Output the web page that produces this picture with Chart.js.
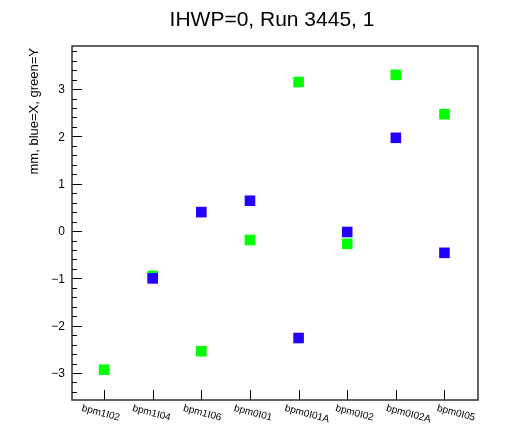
<!DOCTYPE html>
<html>
<head>
<meta charset="utf-8">
<script src="https://cdn.jsdelivr.net/npm/chart.js@4.4.0/dist/chart.umd.min.js"></script>
<style>
html,body{margin:0;padding:0;background:#fff;}
canvas{display:block;}
</style>
</head>
<body>
<canvas id="c" width="516" height="439"></canvas>
<script>
// ---- data ----
const categories = ['bpm1I02','bpm1I04','bpm1I06','bpm0I01','bpm0I01A','bpm0I02','bpm0I02A','bpm0I05'];
const blueX = [null, -1.00, 0.40, 0.64, -2.26, -0.02, 1.97, -0.46];
const greenY = [-2.93, -0.95, -2.54, -0.19, 3.15, -0.27, 3.30, 2.47];
const yTicks = [-3, -2, -1, 0, 1, 2, 3];
const titleText = 'IHWP=0, Run 3445, 1';
const yTitle = 'mm, blue=X, green=Y';

function toPoints(arr){
  const out = [];
  arr.forEach((v,i)=>{ if(v!==null) out.push({x:i,y:v}); });
  return out;
}

const FONT = '"Liberation Sans", Arial, Helvetica, sans-serif';

const rootPlugin = {
  id: 'rootAxes',
  afterDraw(chart){
    const ctx = chart.ctx;
    const a = chart.chartArea;
    const xs = chart.scales.x, ys = chart.scales.y, xl = chart.scales.xl;
    ctx.save();
    // frame
    ctx.strokeStyle = '#222';
    ctx.lineWidth = 1.4;
    ctx.strokeRect(a.left, a.top, a.right - a.left, a.bottom - a.top);
    ctx.lineWidth = 1;
    ctx.strokeStyle = '#000';
    // y ticks major
    ctx.beginPath();
    yTicks.forEach(v=>{
      const p = Math.round(ys.getPixelForValue(v)) + 0.5;
      ctx.moveTo(a.left, p); ctx.lineTo(a.left + 10, p);
    });
    // y minor ticks
    for(let k=-20;k<=20;k++){
      const v = k*0.2;
      if (Math.abs(v - Math.round(v)) < 1e-6) continue;
      if (v < ys.min || v > ys.max) continue;
      const p = Math.round(ys.getPixelForValue(v)) + 0.5;
      ctx.moveTo(a.left, p); ctx.lineTo(a.left + 5, p);
    }
    // x ticks
    categories.forEach((c,i)=>{
      const p = Math.round(xs.getPixelForValue(i)) + 0.5;
      ctx.moveTo(p, a.bottom); ctx.lineTo(p, a.bottom - 10);
    });
    ctx.stroke();

    // y tick labels
    ctx.fillStyle = '#000';
    ctx.font = '12px ' + FONT;
    ctx.textAlign = 'right';
    ctx.textBaseline = 'middle';
    yTicks.forEach(v=>{
      const p = ys.getPixelForValue(v);
      ctx.fillText(v < 0 ? '\u2212' + Math.abs(v) : String(v), a.left - 7, p + 1);
    });

    // x labels (rotated, at bin positions)
    ctx.font = '10px ' + FONT;
    ctx.textAlign = 'left';
    ctx.textBaseline = 'middle';
    categories.forEach((c,i)=>{
      const px = xl.getPixelForValue(i) + 10;
      ctx.save();
      ctx.translate(px, a.bottom + 8);
      ctx.rotate(15 * Math.PI / 180);
      ctx.fillText(c, 0, 0);
      ctx.restore();
    });

    // title
    ctx.font = '21px ' + FONT;
    ctx.textAlign = 'center';
    ctx.textBaseline = 'alphabetic';
    ctx.fillText(titleText, 272, 26);

    // y title
    ctx.save();
    ctx.font = '13px ' + FONT;
    ctx.translate(38, a.top + 2);
    ctx.rotate(-Math.PI/2);
    ctx.textAlign = 'right';
    ctx.textBaseline = 'alphabetic';
    ctx.fillText(yTitle, 0, 0);
    ctx.restore();

    ctx.restore();
  }
};

new Chart(document.getElementById('c'), {
  type: 'scatter',
  data: {
    datasets: [
      {
        label: 'X',
        data: toPoints(blueX),
        backgroundColor: '#2200ff',
        borderColor: '#2200ff',
        borderWidth: 0,
        pointStyle: 'rect',
        pointRadius: 7.5,
        pointHoverRadius: 7.5
      },
      {
        label: 'Y',
        data: toPoints(greenY),
        backgroundColor: '#00ff00',
        borderColor: '#00ff00',
        borderWidth: 0,
        pointStyle: 'rect',
        pointRadius: 7.5,
        pointHoverRadius: 7.5
      }
    ]
  },
  options: {
    responsive: false,
    animation: false,
    events: [],
    layout: { padding: { left: 72, top: 46, right: 38, bottom: 39 } },
    plugins: { legend: { display: false }, title: { display: false }, tooltip: { enabled: false } },
    scales: {
      x: { type: 'linear', min: -0.66, max: 7.69, display: false },
      xl: { type: 'linear', axis: 'x', position: 'bottom', min: 0, max: 8, display: false },
      y: { type: 'linear', min: -3.57, max: 3.91, display: false }
    }
  },
  plugins: [rootPlugin]
});
</script>
</body>
</html>
